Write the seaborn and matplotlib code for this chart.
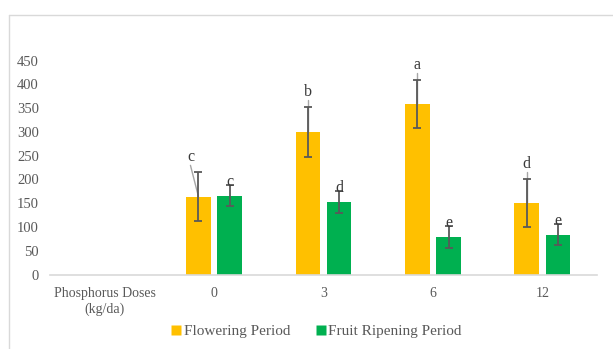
import matplotlib
matplotlib.use("Agg")
import matplotlib.pyplot as plt
import matplotlib.lines as mlines
import seaborn as sns
import pandas as pd
import numpy as np

# Chart data
categories = ["Phosphorus Doses\n(kg/da)", "0", "3", "6", "12"]
doses = ["0", "3", "6", "12"]
series = ["Flowering Period", "Fruit Ripening Period"]
flowering = [164, 300, 359, 150]
flowering_err = [51, 52, 51, 50]
flowering_letters = ["c", "b", "a", "d"]
ripening = [166, 152, 79, 84]
ripening_err = [22, 23, 23, 22]
ripening_letters = ["c", "d", "e", "e"]
yticks = [0, 50, 100, 150, 200, 250, 300, 350, 400, 450]

colors = {"Flowering Period": "#FFC000", "Fruit Ripening Period": "#00B050"}
text_gray = "#595959"

df = pd.DataFrame({
    "dose": doses * 2,
    "period": [series[0]] * 4 + [series[1]] * 4,
    "value": flowering + ripening,
})

sns.set_style("white")
plt.rcParams["font.family"] = ["Liberation Serif", "DejaVu Serif"]

fig = plt.figure(figsize=(6.13, 3.49), dpi=100)
ax = fig.add_axes([50 / 613, 1 - 274.5 / 349, 547 / 613, (274.5 - 60.7) / 349])

sns.barplot(data=df, x="dose", y="value", hue="period", order=categories,
            hue_order=series, palette=colors, saturation=1, width=0.572,
            gap=0.216, errorbar=None, edgecolor="none", linewidth=0, ax=ax,
            legend=False)

ax.set_ylim(0, 450)
ax.set_xlim(-0.5, len(categories) - 0.5)
ax.set_yticks(yticks)
ax.set_xlabel("")
ax.set_ylabel("")
for s in ["left", "right", "top"]:
    ax.spines[s].set_visible(False)
ax.spines["bottom"].set_color("#D9D9D9")
ax.spines["bottom"].set_linewidth(1.2)
ax.tick_params(axis="y", length=0, labelsize=10.5, labelcolor=text_gray, pad=8)
ax.tick_params(axis="x", length=0, labelsize=10, labelcolor=text_gray, pad=9)
for lbl in ax.get_xticklabels():
    lbl.set_linespacing(1.25)

# px -> data conversion for label offsets
px_per_unit = (274.5 - 60.7) / 450

def bar_centres(container):
    return [b.get_x() + b.get_width() / 2 for b in container]

xf = bar_centres(ax.containers[0])
xr = bar_centres(ax.containers[1])

err_kw = dict(fmt="none", ecolor=text_gray, elinewidth=1.3, capsize=3.2,
              capthick=1.3, zorder=4)
ax.errorbar(xf, flowering, yerr=flowering_err, **err_kw)
ax.errorbar(xr, ripening, yerr=ripening_err, **err_kw)

label_kw = dict(ha="center", va="center", fontsize=11.5, color="#3A3A3A", zorder=5)
off = 15 / px_per_unit
leader = "#A6A6A6"
for i, (x, v, e, t) in enumerate(zip(xf, flowering, flowering_err, flowering_letters)):
    ly = v + e + off
    lx = x - (8 / 109.4 if i == 0 else 0)
    ax.text(lx, ly, t, **label_kw)
    # leader line from the label down to the bar top
    ax.plot([lx, x], [ly - 8 / px_per_unit, v], color=leader, lw=1.0, zorder=3)
for x, v, t in zip(xr, ripening, ripening_letters):
    ax.text(x, v + 14 / px_per_unit, t, **label_kw)

# legend
handles = [mlines.Line2D([], [], marker="s", linestyle="none", markersize=6.5,
                         markerfacecolor=colors[s], markeredgecolor="none")
           for s in series]
fig.legend(handles, series, loc="center", bbox_to_anchor=(316 / 613, 1 - 331 / 349),
           ncol=2, frameon=False, prop={"family": "Liberation Serif", "size": 11},
           labelcolor=text_gray, handletextpad=0.1, columnspacing=1.6,
           handlelength=0.8)

# chart area frame
fig.add_artist(mlines.Line2D([9 / 613, 9 / 613], [0, 1 - 15 / 349],
                             transform=fig.transFigure, color="#D9D9D9", lw=1))
fig.add_artist(mlines.Line2D([9 / 613, 1], [1 - 15 / 349, 1 - 15 / 349],
                             transform=fig.transFigure, color="#D9D9D9", lw=1))

fig.savefig("out.png", dpi=100, facecolor="white")
